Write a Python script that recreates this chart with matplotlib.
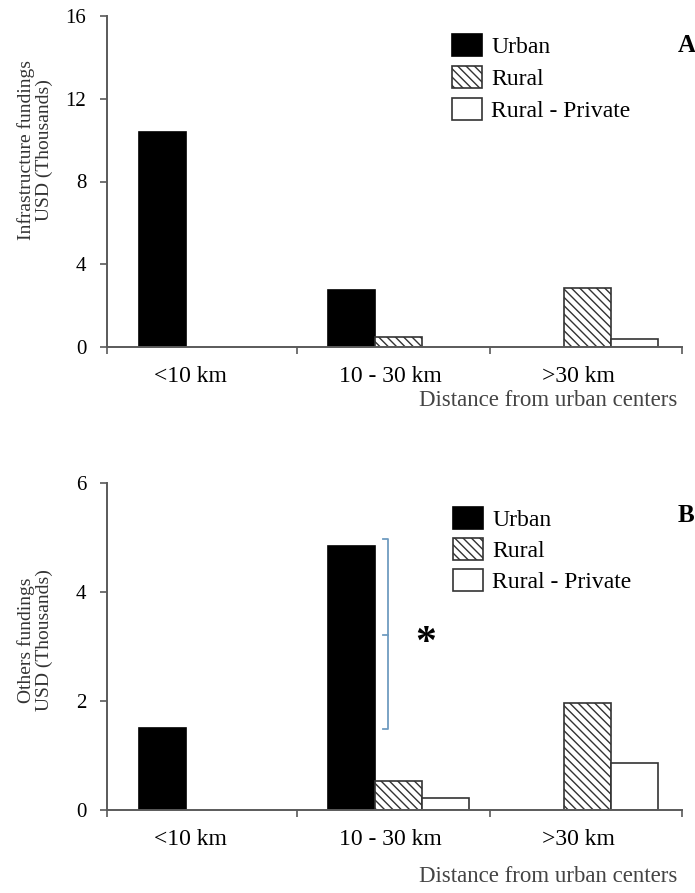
import numpy as np
import matplotlib
matplotlib.use("Agg")
import matplotlib.pyplot as plt

plt.rcParams['font.family'] = ['Liberation Serif', 'DejaVu Serif']
plt.rcParams['hatch.linewidth'] = 1.0

# data
categories = ['<10 km', '10 - 30 km', '>30 km']
series = ['Urban', 'Rural', 'Rural - Private']

infra_urban = [10.4, 2.75, 0]
infra_rural = [0, 0.48, 2.85]
infra_private = [0, 0, 0.38]

others_urban = [1.5, 4.85, 0]
others_rural = [0, 0.53, 1.97]
others_private = [0, 0.22, 0.86]

styles = [
    dict(facecolor='black', edgecolor='black', hatch=None),
    dict(facecolor='white', edgecolor='#333333', hatch='\\\\\\\\'),
    dict(facecolor='white', edgecolor='#333333', hatch=None),
]

axis_col = '#5a5a5a'
W, H = 695, 893


def draw_panel(ax, values, ymax, yticks):
    x = np.arange(len(categories))
    width = 0.248
    handles = []
    for i, (vals, st) in enumerate(zip(values, styles)):
        v = np.array(vals, dtype=float)
        v[v == 0] = np.nan
        b = ax.bar(x + (i - 1) * width, v, width, facecolor=st['facecolor'],
                   edgecolor=st['edgecolor'], hatch=st['hatch'], linewidth=1.2,
                   label=series[i], zorder=2)
        handles.append(b)
    ax.set_xlim(-0.54, 2.5)
    ax.set_ylim(0, ymax)
    ax.set_yticks(yticks)
    # labels sit a little left of the bar groups, as in the original
    ax.set_xticks(x + np.array([-0.1, -0.04, -0.05]))
    ax.set_xticklabels(categories, fontsize=17)
    ax.set_xticks([-0.54, 0.465, 1.485, 2.5], minor=True)
    ax.tick_params(axis='x', which='major', length=0, pad=14)
    ax.tick_params(axis='x', which='minor', length=5, width=1.2, color=axis_col)
    ax.tick_params(axis='y', length=5, width=1.2, color=axis_col, labelsize=15, pad=10)
    for s in ['top', 'right']:
        ax.spines[s].set_visible(False)
    for s in ['left', 'bottom']:
        ax.spines[s].set_color(axis_col)
        ax.spines[s].set_linewidth(1.4)
    return handles


fig = plt.figure(figsize=(6.95, 8.93), dpi=100)

def fx(px):
    return px / W

def fy(py):
    return 1 - py / H

# Panel A
axA = fig.add_axes([fx(107), fy(347), fx(682) - fx(107), fy(16) - fy(347)])
hA = draw_panel(axA, [infra_urban, infra_rural, infra_private], 16, [0, 4, 8, 12, 16])
fig.legend(handles=hA, labels=series, loc='upper left',
           bbox_to_anchor=(fx(452), fy(34)), frameon=False, fontsize=17,
           handlelength=1.25, handleheight=1.08, labelspacing=0.32,
           handletextpad=0.42, borderpad=0, borderaxespad=0)
fig.text(fx(35), fy(150), 'Infrastructure fundings\nUSD (Thousands)', rotation=90,
         ha='center', va='center', fontsize=14, color='#333333', linespacing=1.0)
fig.text(fx(677), fy(401), 'Distance from urban centers', ha='right', va='center',
         fontsize=16.5, color='#444444')
fig.text(fx(678), fy(46), 'A', ha='left', va='center', fontsize=18, fontweight='bold')

# Panel B
axB = fig.add_axes([fx(107), fy(810), fx(682) - fx(107), fy(483) - fy(810)])
hB = draw_panel(axB, [others_urban, others_rural, others_private], 6, [0, 2, 4, 6])
fig.legend(handles=hB, labels=series, loc='upper left',
           bbox_to_anchor=(fx(453), fy(507)), frameon=False, fontsize=17,
           handlelength=1.25, handleheight=1.08, labelspacing=0.28,
           handletextpad=0.42, borderpad=0, borderaxespad=0)
fig.text(fx(35), fy(640), 'Others fundings\nUSD (Thousands)', rotation=90,
         ha='center', va='center', fontsize=14, color='#333333', linespacing=1.0)
fig.text(fx(677), fy(876), 'Distance from urban centers', ha='right', va='center',
         fontsize=16.5, color='#444444')
fig.text(fx(678), fy(516), 'B', ha='left', va='center', fontsize=18, fontweight='bold')

# significance bracket
bx, btop, bbot, bmid = 0.945, 4.97, 1.49, 3.21
serif = 0.025
br_col = '#6f9cc0'
axB.plot([bx - serif, bx, bx, bx - serif], [btop, btop, bbot, bbot], color=br_col, lw=1.3,
         clip_on=False)
axB.plot([bx - serif, bx], [bmid, bmid], color=br_col, lw=1.3)
axB.text(1.147, 3.05, '*', ha='center', va='center', fontsize=30, fontweight='bold')

fig.savefig('out.png', dpi=100)
